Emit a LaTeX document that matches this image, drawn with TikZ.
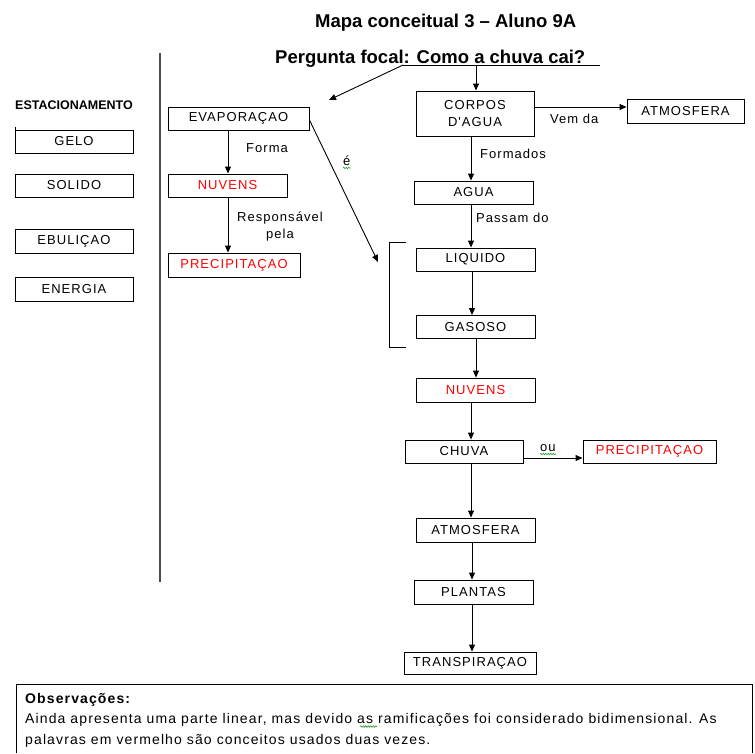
\documentclass[tikz,border=0pt]{standalone}
\usepackage{fontspec}
\setmainfont{Liberation Sans}
\newfontfamily\boxfont[LetterSpace=8]{Liberation Sans}
\newfontfamily\obsfont[LetterSpace=8]{Liberation Sans}
\usetikzlibrary{arrows.meta,decorations.pathmorphing}
\definecolor{txtred}{RGB}{255,0,0}
\definecolor{spell}{RGB}{40,160,40}
\begin{document}
\begin{tikzpicture}[x=1pt,y=-1pt,
  box/.style={draw,line width=0.9pt,inner sep=0pt,font=\boxfont\fontsize{13}{17}\selectfont},
  redtxt/.style={text=txtred},
  arr/.style={-{Triangle[length=7pt,width=6pt]},line width=0.9pt},
  lbl/.style={inner sep=0pt,font=\boxfont\fontsize{13}{17}\selectfont},
  squig/.style={spell,line width=0.6pt,decorate,decoration={snake,segment length=2.5pt,amplitude=0.8pt}},
]
\useasboundingbox (0,0) rectangle (755,753);
\fill[white] (0,0) rectangle (755,753);

% titles
\node[anchor=base west,inner sep=0pt,font=\bfseries\fontsize{18.5}{20}\selectfont] (title) at (315,27) {Mapa conceitual 3 – Aluno 9A};
\node[anchor=base west,inner sep=0pt,font=\bfseries\fontsize{18.5}{20}\selectfont] (focal) at (275,63) {Pergunta focal: Como a chuva cai?};
\coordinate (fl) at (403,65);
\coordinate (fr) at (600,65);
\coordinate (fd) at (476,65);
\coordinate (ea) at (329,100);
\draw[line width=0.9pt] (fl) -- (fr);

% divider
\draw[line width=1.6pt,black!70] (160,53) -- (160,582);

% left column
\node[anchor=base west,inner sep=0pt,font=\bfseries\fontsize{12.5}{15}\selectfont] (est) at (15,109) {ESTACIONAMENTO};
\node[box,minimum width=118pt,minimum height=23pt] (gelo) at (74,141.5) {GELO};
\draw[line width=1.3pt] (15.5,127) -- (15.5,140);
\node[box,minimum width=118pt,minimum height=23pt] (solido) at (74,185.5) {SOLIDO};
\node[box,minimum width=118pt,minimum height=24pt] (ebul) at (74,241) {EBULIÇAO};
\node[box,minimum width=118pt,minimum height=24pt] (energia) at (74,289) {ENERGIA};

% middle column
\node[box,minimum width=141pt,minimum height=23pt] (evap) at (238.5,118.5) {EVAPORAÇAO};
\node[box,redtxt,minimum width=119pt,minimum height=23pt] (nuv1) at (227.5,185.5) {NUVENS};
\node[box,redtxt,minimum width=132pt,minimum height=24pt] (prec1) at (234,265) {PRECIPITAÇAO};

% right column
\node[box,align=center,minimum width=118pt,minimum height=45pt] (corpos) at (475,113.5) {CORPOS\\D'AGUA};
\node[box,minimum width=117pt,minimum height=24pt] (atm1) at (685.5,111) {ATMOSFERA};
\node[box,minimum width=119pt,minimum height=23pt] (agua) at (473.5,192.5) {AGUA};
\node[box,minimum width=119pt,minimum height=23pt] (liq) at (475.5,259.5) {LIQUIDO};
\node[box,minimum width=119pt,minimum height=23pt] (gas) at (475.5,327) {GASOSO};
\node[box,redtxt,minimum width=119pt,minimum height=24pt] (nuv2) at (475.5,390) {NUVENS};
\node[box,minimum width=118pt,minimum height=23pt] (chuva) at (464,451.5) {CHUVA};
\node[box,redtxt,minimum width=133pt,minimum height=23pt] (prec2) at (649.5,451.5) {PRECIPITAÇAO};
\node[box,minimum width=119pt,minimum height=24pt] (atm2) at (475.5,530) {ATMOSFERA};
\node[box,minimum width=119pt,minimum height=24pt] (plantas) at (473.5,592) {PLANTAS};
\node[box,minimum width=132pt,minimum height=22pt] (transp) at (470,663) {TRANSPIRAÇAO};

% bracket
\draw[line width=0.9pt] (406,242) -- (389,242) -- (389,347) -- (406,347);
\coordinate (bt) at (378,262);

% connectors
\draw[arr] (fl) -- (ea);
\draw[arr] (fd) -- (fd |- corpos.north);
\draw[arr] ([xshift=-10.5pt]evap.south) -- ([xshift=-10.5pt]evap.south |- nuv1.north);
\draw[arr] ([xshift=0.5pt]nuv1.south) -- ([xshift=0.5pt]nuv1.south |- prec1.north);
\draw[arr] ([yshift=-1.5pt]evap.east) -- (bt);
\draw[arr] ([yshift=6.5pt]corpos.east) -- ([yshift=6.5pt]corpos.east -| atm1.west);
\draw[arr] ([xshift=-4pt]corpos.south) -- ([xshift=-4pt]corpos.south |- agua.north);
\draw[arr] ([xshift=-2.5pt]agua.south) -- ([xshift=-2.5pt]agua.south |- liq.north);
\draw[arr] ([xshift=-3.5pt]liq.south) -- ([xshift=-3.5pt]liq.south |- gas.north);
\draw[arr] ([xshift=0.5pt]gas.south) -- ([xshift=0.5pt]gas.south |- nuv2.north);
\draw[arr] ([xshift=-4.5pt]nuv2.south) -- ([xshift=-4.5pt]nuv2.south |- chuva.north);
\draw[arr] ([yshift=-6.5pt]chuva.east) -- ([yshift=-6.5pt]chuva.east -| prec2.west);
\draw[arr] ([xshift=7pt]chuva.south) -- ([xshift=7pt]chuva.south |- atm2.north);
\draw[arr] ([xshift=-3.5pt]atm2.south) -- ([xshift=-3.5pt]atm2.south |- plantas.north);
\draw[arr] ([xshift=-1.5pt]plantas.south) -- ([xshift=-1.5pt]plantas.south |- transp.north);

% labels
\node[lbl,anchor=base west] (lforma) at (246,152) {Forma};
\node[lbl,align=center,anchor=base] (lresp) at (280,238) {Responsável\\pela};
\node[lbl,anchor=base west] (le) at (343,165) {é};
\draw[squig] (343,168) -- (350.5,168);
\node[lbl,anchor=base west] (lvem) at (550,123) {Vem da};
\node[lbl,anchor=base west] (lform) at (480,158) {Formados};
\node[lbl,anchor=base west] (lpass) at (476,222) {Passam do};
\node[lbl,anchor=base west] (lou) at (540,451) {ou};
\draw[squig] (540,454) -- (556,454);

% observations box
\draw[line width=0.9pt] (16,753) -- (16,684) -- (752,684) -- (752,753);
\node[anchor=base west,inner sep=0pt,font=\obsfont\bfseries\fontsize{14}{16}\selectfont] (obs) at (25,703) {Observações:};
\node[anchor=base west,inner sep=0pt,font=\obsfont\fontsize{14}{16}\selectfont] (obs2) at (25,723.5) {Ainda apresenta uma parte linear, mas devido as ramificações foi considerado bidimensional. As};
\draw[squig] (360,726.5) -- (377,726.5);
\node[anchor=base west,inner sep=0pt,font=\obsfont\fontsize{14}{16}\selectfont] (obs3) at (25,744) {palavras em vermelho são conceitos usados duas vezes.};
\end{tikzpicture}
\end{document}
